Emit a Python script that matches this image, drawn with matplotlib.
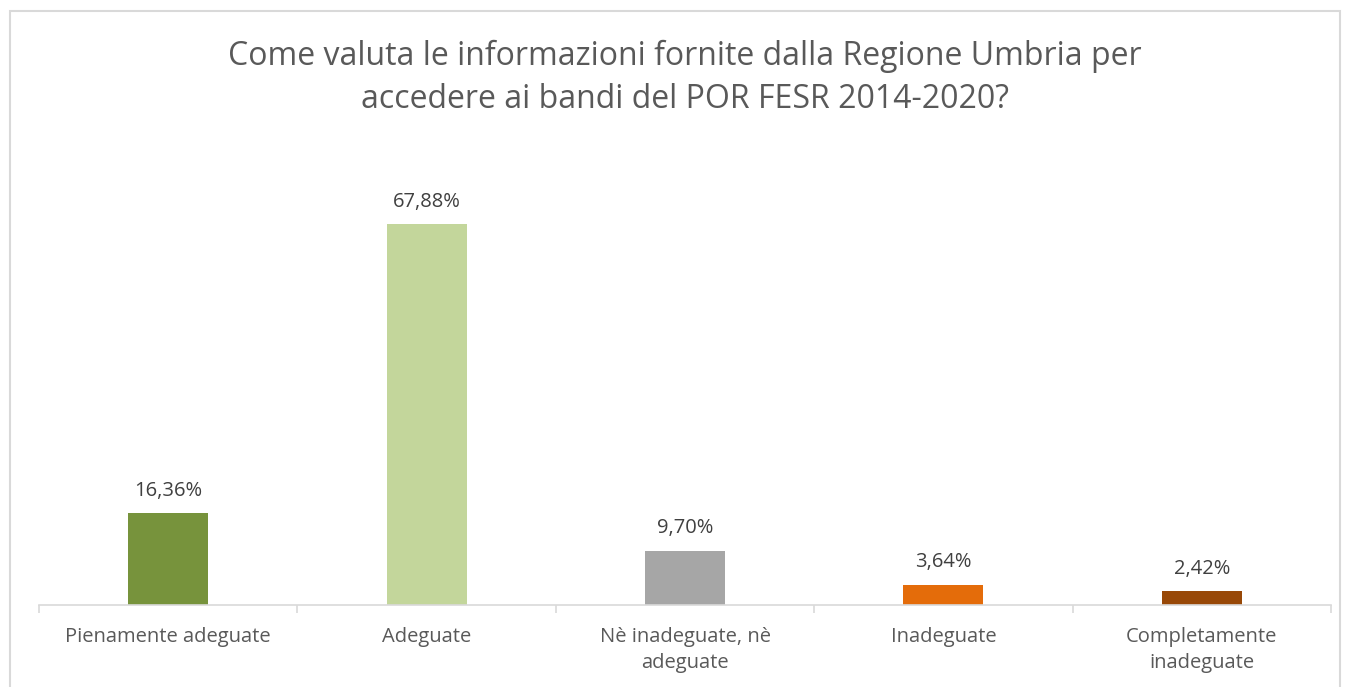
import matplotlib.pyplot as plt
from matplotlib.patches import Rectangle
import numpy as np

categories = ["Pienamente adeguate", "Adeguate", "Nè inadeguate, nè\nadeguate",
              "Inadeguate", "Completamente\ninadeguate"]
values = [16.36, 67.88, 9.70, 3.64, 2.42]
colors = ["#77933C", "#C3D69B", "#A6A6A6", "#E46C0A", "#984807"]
title = "Come valuta le informazioni fornite dalla Regione Umbria per\naccedere ai bandi del POR FESR 2014-2020?"

plt.rcParams['font.family'] = ['Open Sans', 'DejaVu Sans']
txt = "#595959"
grid = "#D9D9D9"

W, H = 1349, 687
fig = plt.figure(figsize=(W / 100, H / 100), dpi=100)
ax = fig.add_axes([39 / W, (H - 605) / H, (1331 - 39) / W, (605 - 156) / H])

x = np.arange(len(categories))
ax.bar(x, values, width=0.31, color=colors)
for xi, v in zip(x, values):
    ax.text(xi, v + 2.2, f"{v:.2f}%".replace(".", ","), ha="center", va="bottom",
            fontsize=14.5, color="#404040")

ax.set_xlim(-0.5, len(categories) - 0.5)
ax.set_ylim(0, 80)
ax.set_yticks([])
for s in ["top", "right", "left"]:
    ax.spines[s].set_visible(False)
ax.spines["bottom"].set_color(grid)
ax.spines["bottom"].set_linewidth(1.2)

ax.set_xticks(x)
ax.set_xticklabels(categories, fontsize=14.5, color=txt, linespacing=1.4)
ax.tick_params(axis="x", which="major", length=0, pad=16)
ax.set_xticks(np.arange(-0.5, len(categories)), minor=True)
ax.tick_params(axis="x", which="minor", length=6, color=grid, width=1.2)

fig.text(685 / W, 1 - 78 / H, title, ha="center", va="center", fontsize=23,
         color=txt, linespacing=1.4)

fig.patches.append(Rectangle((10 / W, -0.05), (1340 - 10) / W, (H - 11) / H + 0.05,
                             transform=fig.transFigure, fill=False,
                             edgecolor=grid, linewidth=1.5))

fig.savefig("out.png", dpi=100)
